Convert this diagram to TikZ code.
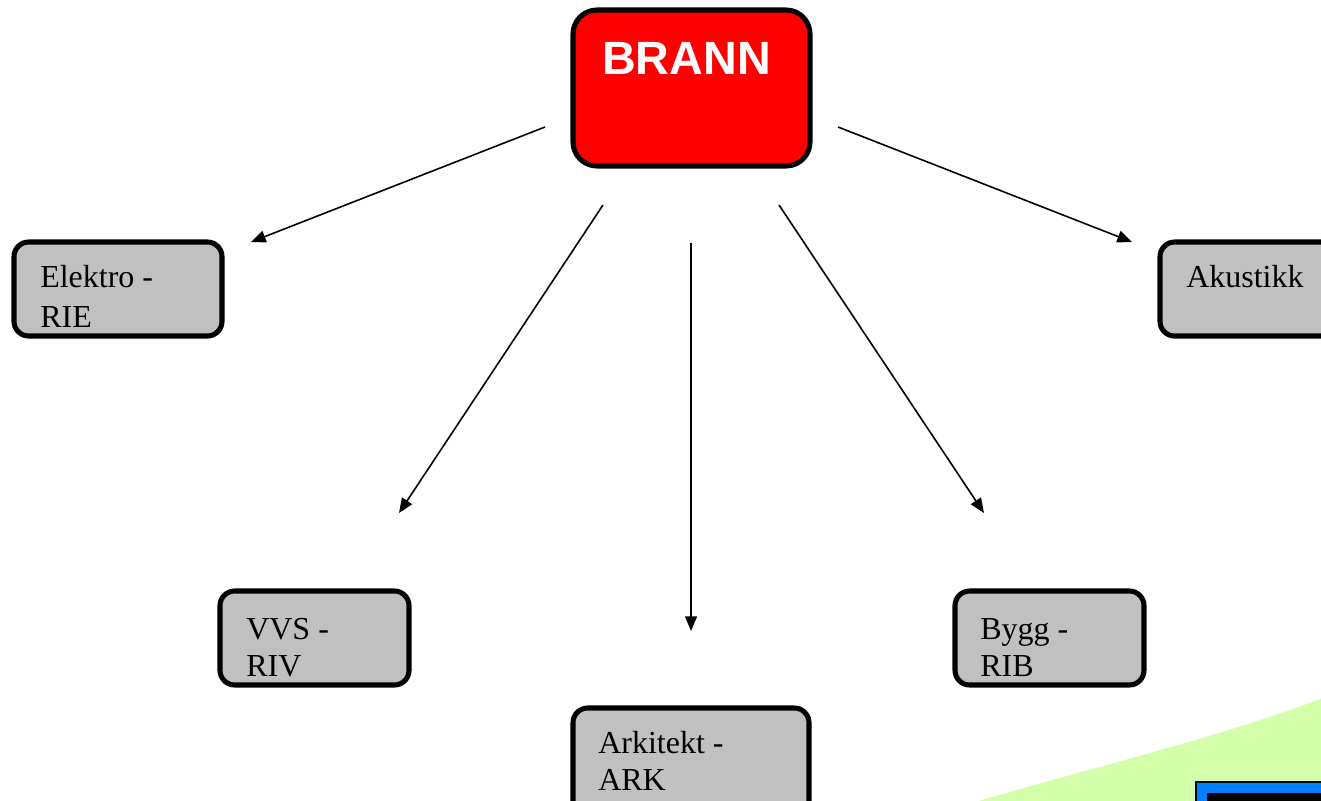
\documentclass[tikz,border=0pt]{standalone}
\usepackage{fontspec}
\setmainfont{Liberation Serif}
\newfontfamily\headfont{Liberation Sans}
\usetikzlibrary{arrows.meta}
\definecolor{boxgrey}{HTML}{C0C0C0}
\definecolor{brannred}{HTML}{FF0000}
\definecolor{lightgreen}{HTML}{D4FFAA}
\definecolor{logoblue}{HTML}{0080FF}
\begin{document}
\begin{tikzpicture}[x=0.75pt,y=-0.75pt,
  greybox/.style={draw=black,line width=3.8pt,fill=boxgrey,rounded corners=11pt},
  redbox/.style={draw=black,line width=3.8pt,fill=brannred,rounded corners=18pt},
  lbl/.style={anchor=base west,inner sep=0pt,font=\fontsize{24}{30}\selectfont},
  conn/.style={line width=1.2pt,-{Triangle[length=11pt,width=9pt]}}]
\useasboundingbox (0,0) rectangle (1321,800);
\clip (0,0) rectangle (1321,800);
% background green shape and logo
\fill[lightgreen] (965,805) .. controls (1100,765) and (1230,735) .. (1330,695) -- (1330,805) -- cycle;
\filldraw[fill=logoblue,draw=black,line width=1pt] (1196,782) rectangle (1330,810);
\fill[black] (1207,793) rectangle (1330,810);
% boxes
\draw[redbox] (573,10) rectangle (810,166);
\node[anchor=base west,inner sep=0pt,text=white,font=\headfont\bfseries\fontsize{35}{40}\selectfont] (brann) at (602,74) {BRANN};
\draw[greybox] (14,242) rectangle (222,336);
\node[lbl] (elektro1) at (40,287) {Elektro -};
\node[lbl] (elektro2) at (40,327) {RIE};
\draw[greybox] (1160,242) rectangle (1345,336);
\node[lbl] (akustikk) at (1186,287) {Akustikk};
\draw[greybox] (220,591) rectangle (409,685);
\node[lbl] (vvs1) at (246,639) {VVS -};
\node[lbl] (vvs2) at (246,676) {RIV};
\draw[greybox] (955,591) rectangle (1144,685);
\node[lbl] (bygg1) at (980,639) {Bygg -};
\node[lbl] (bygg2) at (980,676) {RIB};
\draw[greybox] (573,708) rectangle (809,820);
\node[lbl] (ark1) at (598,753) {Arkitekt -};
\node[lbl] (ark2) at (598,790) {ARK};
% arrow end points
\coordinate (s1) at (545,127); \coordinate (e1) at (251,242);
\coordinate (s2) at (603,205); \coordinate (e2) at (399,513);
\coordinate (s3) at (691,243); \coordinate (e3) at (691,631);
\coordinate (s4) at (779,205); \coordinate (e4) at (984,513);
\coordinate (s5) at (838,127); \coordinate (e5) at (1132,242);
\draw[conn] (s1) -- (e1);
\draw[conn] (s2) -- (e2);
\draw[conn] (s3) -- (e3);
\draw[conn] (s4) -- (e4);
\draw[conn] (s5) -- (e5);
\end{tikzpicture}
\end{document}
